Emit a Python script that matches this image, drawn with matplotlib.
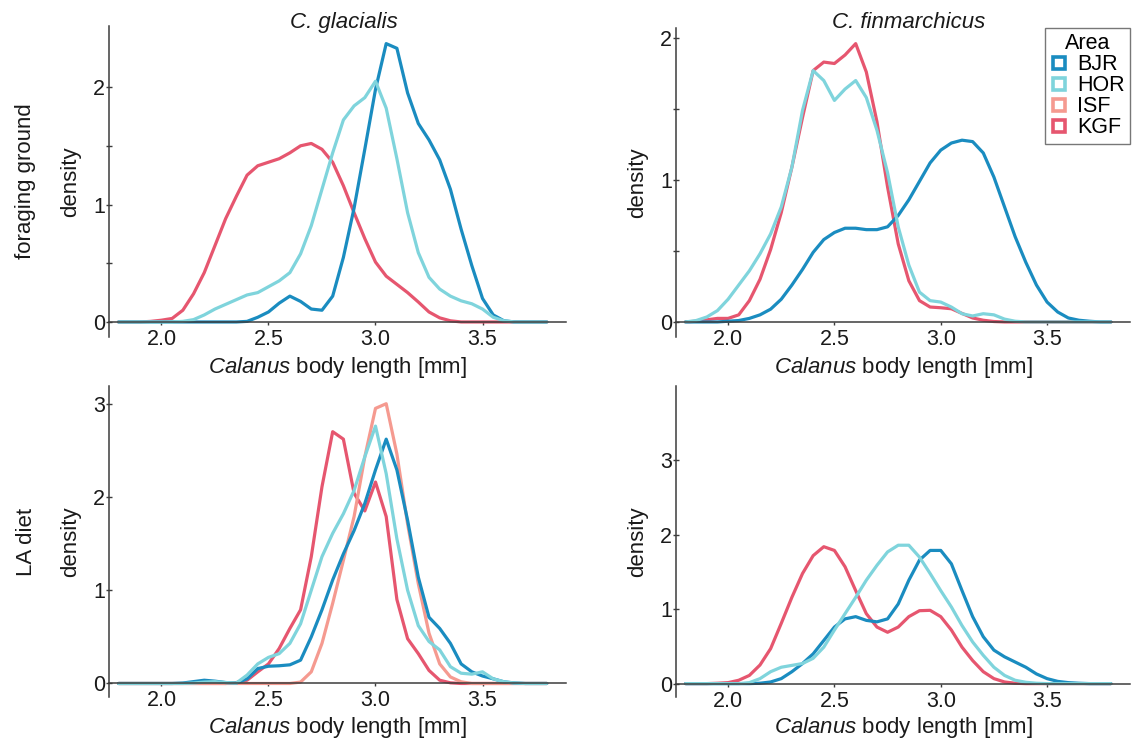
import numpy as np
import matplotlib
matplotlib.use("Agg")
import matplotlib.pyplot as plt
from matplotlib.lines import Line2D
from matplotlib.ticker import FixedLocator

plt.rcParams['font.family'] = ['Liberation Sans', 'DejaVu Sans']
plt.rcParams['mathtext.fontset'] = 'custom'
plt.rcParams['mathtext.rm'] = 'Liberation Sans'
plt.rcParams['mathtext.it'] = 'Liberation Sans:italic'

# ---------------- data (density) ----------------
# body length grid [mm] at which densities were read: 1.80, 1.85, ..., 3.80
body_length = [1.80, 1.85, 1.90, 1.95, 2.00, 2.05, 2.10, 2.15, 2.20, 2.25,
               2.30, 2.35, 2.40, 2.45, 2.50, 2.55, 2.60, 2.65, 2.70, 2.75,
               2.80, 2.85, 2.90, 2.95, 3.00, 3.05, 3.10, 3.15, 3.20, 3.25,
               3.30, 3.35, 3.40, 3.45, 3.50, 3.55, 3.60, 3.65, 3.70, 3.75, 3.80]

areas = ['BJR', 'HOR', 'ISF', 'KGF']
area_colors = ['#1a8cc0', '#7fd4dc', '#f59a90', '#e6566f']
species = ['C. glacialis', 'C. finmarchicus']
row_labels = ['foraging ground', 'LA diet']

# C. glacialis, foraging ground
glac_forag_BJR = [0, 0, 0, 0, 0, 0, 0, 0, 0, 0,
                  0, 0, 0.005, 0.04, 0.085, 0.16, 0.22, 0.175, 0.11, 0.10,
                  0.22, 0.55, 0.97, 1.47, 1.98, 2.37, 2.33, 1.95, 1.69, 1.55,
                  1.38, 1.13, 0.79, 0.48, 0.20, 0.06, 0.01, 0, 0, 0, 0]
glac_forag_HOR = [0, 0, 0, 0, 0, 0, 0.005, 0.02, 0.06, 0.11,
                  0.15, 0.19, 0.23, 0.25, 0.30, 0.35, 0.42, 0.58, 0.82, 1.13,
                  1.44, 1.72, 1.84, 1.91, 2.05, 1.82, 1.39, 0.93, 0.59, 0.38,
                  0.28, 0.22, 0.18, 0.155, 0.11, 0.04, 0.01, 0, 0, 0, 0]
glac_forag_KGF = [0, 0, 0, 0.005, 0.015, 0.03, 0.10, 0.24, 0.42, 0.65,
                  0.88, 1.07, 1.25, 1.33, 1.36, 1.39, 1.44, 1.50, 1.52, 1.47,
                  1.36, 1.16, 0.93, 0.71, 0.51, 0.39, 0.32, 0.25, 0.17, 0.085,
                  0.035, 0.01, 0, 0, 0, 0, 0, 0, 0, 0, 0]

# C. finmarchicus, foraging ground
fin_forag_BJR = [0, 0, 0, 0, 0.005, 0.01, 0.025, 0.05, 0.09, 0.16,
                 0.26, 0.37, 0.49, 0.58, 0.63, 0.66, 0.66, 0.65, 0.65, 0.67,
                 0.75, 0.86, 0.99, 1.12, 1.21, 1.26, 1.28, 1.27, 1.19, 1.02,
                 0.81, 0.60, 0.42, 0.26, 0.14, 0.07, 0.028, 0.012, 0.005, 0, 0]
fin_forag_HOR = [0, 0.01, 0.035, 0.08, 0.16, 0.26, 0.36, 0.48, 0.62, 0.81,
                 1.09, 1.49, 1.77, 1.70, 1.56, 1.64, 1.70, 1.58, 1.35, 1.05,
                 0.67, 0.40, 0.21, 0.15, 0.14, 0.105, 0.058, 0.042, 0.058, 0.05,
                 0.02, 0.005, 0, 0, 0, 0, 0, 0, 0, 0, 0]
fin_forag_KGF = [0, 0.005, 0.015, 0.025, 0.025, 0.05, 0.15, 0.30, 0.51, 0.77,
                 1.09, 1.44, 1.77, 1.83, 1.82, 1.88, 1.96, 1.76, 1.41, 0.95,
                 0.55, 0.29, 0.15, 0.105, 0.10, 0.093, 0.06, 0.028, 0.012, 0.003,
                 0, 0, 0, 0, 0, 0, 0, 0, 0, 0, 0]

# C. glacialis, LA diet
glac_diet_BJR = [0, 0, 0, 0, 0, 0, 0.005, 0.02, 0.035, 0.025,
                 0.01, 0.005, 0.05, 0.16, 0.185, 0.19, 0.20, 0.25, 0.50, 0.79,
                 1.11, 1.39, 1.64, 1.93, 2.29, 2.62, 2.29, 1.75, 1.14, 0.71,
                 0.59, 0.43, 0.21, 0.125, 0.08, 0.05, 0.018, 0.005, 0, 0, 0]
glac_diet_HOR = [0, 0, 0, 0, 0, 0, 0, 0.005, 0.015, 0.02,
                 0.01, 0.005, 0.09, 0.21, 0.28, 0.32, 0.43, 0.64, 1.00, 1.36,
                 1.61, 1.82, 2.07, 2.43, 2.76, 2.25, 1.55, 1.00, 0.62, 0.45,
                 0.36, 0.18, 0.11, 0.10, 0.125, 0.05, 0.018, 0.005, 0, 0, 0]
glac_diet_ISF = [0, 0, 0, 0, 0, 0, 0, 0, 0, 0,
                 0, 0, 0, 0, 0, 0, 0, 0.015, 0.125, 0.43,
                 0.86, 1.32, 1.79, 2.43, 2.95, 3.00, 2.46, 1.71, 1.07, 0.54,
                 0.21, 0.07, 0.018, 0, 0, 0, 0, 0, 0, 0, 0]
glac_diet_KGF = [0, 0, 0, 0, 0, 0, 0, 0, 0, 0,
                 0, 0.01, 0.035, 0.125, 0.21, 0.375, 0.59, 0.79, 1.36, 2.11,
                 2.70, 2.62, 2.04, 1.85, 2.16, 1.79, 0.90, 0.48, 0.32, 0.14,
                 0.035, 0.007, 0, 0, 0, 0, 0, 0, 0, 0, 0]

# C. finmarchicus, LA diet
fin_diet_BJR = [0, 0, 0, 0, 0, 0, 0, 0.005, 0.022, 0.067,
                0.16, 0.27, 0.40, 0.58, 0.76, 0.87, 0.90, 0.85, 0.83, 0.87,
                1.07, 1.39, 1.66, 1.79, 1.79, 1.61, 1.25, 0.90, 0.63, 0.45,
                0.36, 0.29, 0.22, 0.13, 0.067, 0.03, 0.013, 0.005, 0, 0, 0]
fin_diet_HOR = [0, 0, 0, 0, 0, 0, 0.013, 0.067, 0.16, 0.22,
                0.245, 0.27, 0.34, 0.49, 0.72, 0.94, 1.16, 1.39, 1.59, 1.77,
                1.86, 1.86, 1.70, 1.48, 1.25, 1.03, 0.78, 0.56, 0.38, 0.22,
                0.11, 0.045, 0.018, 0.005, 0, 0, 0, 0, 0, 0, 0]
fin_diet_KGF = [0, 0, 0, 0.005, 0.013, 0.045, 0.11, 0.25, 0.47, 0.81,
                1.16, 1.48, 1.72, 1.84, 1.79, 1.57, 1.25, 0.94, 0.76, 0.69,
                0.76, 0.90, 0.98, 0.985, 0.90, 0.72, 0.49, 0.31, 0.16, 0.067,
                0.022, 0.005, 0, 0, 0, 0, 0, 0, 0, 0, 0]

panel_series = [
    {'BJR': glac_forag_BJR, 'HOR': glac_forag_HOR, 'KGF': glac_forag_KGF},
    {'BJR': fin_forag_BJR, 'HOR': fin_forag_HOR, 'KGF': fin_forag_KGF},
    {'BJR': glac_diet_BJR, 'HOR': glac_diet_HOR, 'ISF': glac_diet_ISF, 'KGF': glac_diet_KGF},
    {'BJR': fin_diet_BJR, 'HOR': fin_diet_HOR, 'KGF': fin_diet_KGF},
]
y_major = [[0, 1, 2], [0, 1, 2], [0, 1, 2, 3], [0, 1, 2, 3]]
y_minor = [[0.5, 1.5], [0.5, 1.5], [], []]
y_limits = [(-0.128, 2.52), (-0.106, 2.07), (-0.145, 3.19), (-0.18, 4.0)]
x_ticks = [2.0, 2.5, 3.0, 3.5]
x_tick_labels = ['2.0', '2.5', '3.0', '3.5']

# ---------------- figure ----------------
W, H = 1146, 747
fig = plt.figure(figsize=(W / 100, H / 100), dpi=100)
fig.patch.set_facecolor('white')

# pixel boxes: left, right, top, bottom
boxes = [(109, 566, 26, 337), (676, 1130, 28, 337),
         (109, 566, 386, 697), (676, 1130, 386, 697)]

draw_order = ['KGF', 'ISF', 'BJR', 'HOR']
color_of = dict(zip(areas, area_colors))
axes = []
for i, (l, r, t, b) in enumerate(boxes):
    ax = fig.add_axes([l / W, 1 - b / H, (r - l) / W, (b - t) / H])
    axes.append(ax)
    for a in draw_order:
        if a in panel_series[i]:
            ax.plot(body_length, panel_series[i][a], color=color_of[a], lw=2.3,
                    solid_joinstyle='round', solid_capstyle='round')
    ax.set_xlim(1.755, 3.89)
    ax.set_ylim(*y_limits[i])
    for s in ['top', 'right']:
        ax.spines[s].set_visible(False)
    ax.spines['bottom'].set_position(('data', 0))
    for s in ['left', 'bottom']:
        ax.spines[s].set_color('#3c3c3c')
        ax.spines[s].set_linewidth(1.1)
    ax.set_xticks(x_ticks)
    ax.set_xticklabels(x_tick_labels)
    ax.yaxis.set_major_locator(FixedLocator(y_major[i]))
    ax.set_yticklabels([str(v) for v in y_major[i]])
    ax.yaxis.set_minor_locator(FixedLocator(y_minor[i]))
    ax.tick_params(axis='x', direction='out', length=2, width=1, color='#3c3c3c',
                   labelsize=15.5, pad=3, labelcolor='#1a1a1a')
    ax.tick_params(axis='y', which='both', direction='inout', length=4, width=1,
                   color='#3c3c3c', labelsize=15.5, pad=1, labelcolor='#1a1a1a')
    ax.patch.set_alpha(0)
    # x label
    cx = (l + r) / 2 / W
    ly = 367 if i < 2 else 728
    fig.text(cx, 1 - ly / H, r'$\mathit{Calanus}$ body length [mm]', ha='center', va='center',
             fontsize=16, color='#1a1a1a')
    # y label
    dx = (l - 38) / W
    fig.text(dx, 1 - ((t + b) / 2) / H, 'density', rotation=90, ha='center', va='center',
             fontsize=16, color='#1a1a1a')

# column titles
for j, sp in enumerate(species):
    l, r, t, b = boxes[j]
    fig.text(((l + r) / 2 + 6) / W, 1 - 28 / H, sp, style='italic', ha='center',
             va='baseline', fontsize=16, color='#1a1a1a')

# row labels
for k, lab in enumerate(row_labels):
    l, r, t, b = boxes[2 * k]
    fig.text(26 / W, 1 - ((t + b) / 2) / H, lab, rotation=90, ha='center', va='center',
             fontsize=16, color='#1a1a1a')

# legend
handles = [Line2D([], [], marker='s', linestyle='none', markerfacecolor='none',
                  markeredgecolor=c, markeredgewidth=2.6, markersize=8.5) for c in area_colors]
leg = fig.legend(handles, areas, title='Area', loc='upper right',
                 bbox_to_anchor=(1130 / W, 1 - 28 / H), bbox_transform=fig.transFigure,
                 frameon=True, fancybox=False, fontsize=15.5, title_fontsize=15.5,
                 borderpad=0.25, handletextpad=0.45, handlelength=0.8, labelspacing=0.0,
                 borderaxespad=0)
leg.get_frame().set_edgecolor('#555555')
leg.get_frame().set_linewidth(1.0)

fig.savefig('out.png', dpi=100, facecolor='white')
